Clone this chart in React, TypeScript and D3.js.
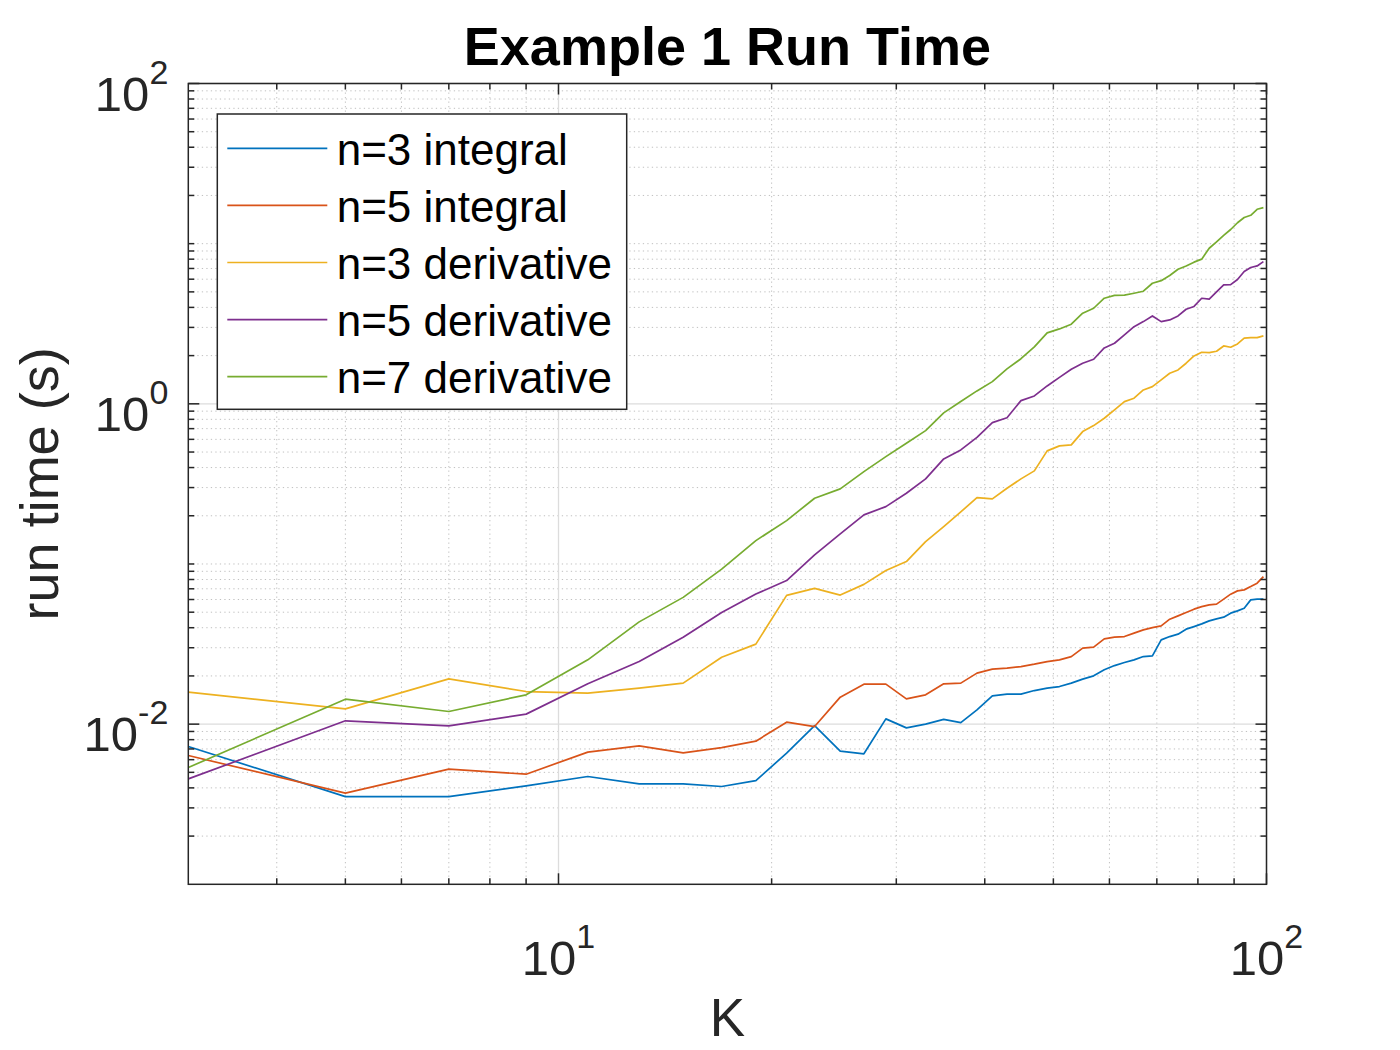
import React from "react";
import * as d3 from "d3";

const kValues = [3, 5, 7, 9, 11, 13, 15, 17, 19, 21, 23, 25, 27, 29, 31, 33, 35, 37, 39, 41, 43, 45, 47, 49, 51, 53, 55, 57, 59, 61, 63, 65, 67, 69, 71, 73, 75, 77, 79, 81, 83, 85, 87, 89, 91, 93, 95, 97, 99];

const n3Integral = [0.00725, 0.00353, 0.00353, 0.00412, 0.00471, 0.00424, 0.00424, 0.00408, 0.00444, 0.00659, 0.0098, 0.00678, 0.00653, 0.01079, 0.00948, 0.01, 0.01072, 0.01023, 0.01228, 0.01502, 0.01539, 0.01539, 0.01621, 0.01678, 0.01717, 0.01803, 0.0191, 0.02002, 0.02183, 0.02321, 0.02424, 0.0252, 0.02642, 0.02669, 0.03359, 0.03522, 0.03646, 0.03917, 0.04066, 0.04227, 0.04413, 0.04543, 0.04655, 0.0493, 0.05095, 0.05297, 0.05969, 0.0603, 0.0603];

const n5Integral = [0.00637, 0.00371, 0.00524, 0.00487, 0.00669, 0.00732, 0.00662, 0.00714, 0.00783, 0.01029, 0.00966, 0.01474, 0.01777, 0.01777, 0.01438, 0.01524, 0.01785, 0.01803, 0.02082, 0.02204, 0.02236, 0.02288, 0.02368, 0.02459, 0.0252, 0.02642, 0.02981, 0.03024, 0.03408, 0.03492, 0.03522, 0.03698, 0.03877, 0.04008, 0.04107, 0.04523, 0.04742, 0.04972, 0.05222, 0.0542, 0.05554, 0.05611, 0.0603, 0.06479, 0.06794, 0.06892, 0.07225, 0.07588, 0.08342];

const n3Derivative = [0.01584, 0.01246, 0.01918, 0.01598, 0.01561, 0.01678, 0.01803, 0.02619, 0.03158, 0.06368, 0.07043, 0.06396, 0.07459, 0.09096, 0.1035, 0.1379, 0.1712, 0.2114, 0.2597, 0.2549, 0.297, 0.3399, 0.3813, 0.5082, 0.5461, 0.554, 0.6707, 0.731, 0.8129, 0.9161, 1.032, 1.084, 1.221, 1.281, 1.41, 1.552, 1.628, 1.792, 1.991, 2.099, 2.087, 2.13, 2.298, 2.256, 2.365, 2.568, 2.59, 2.59, 2.654];

const n5Derivative = [0.00455, 0.01049, 0.00976, 0.01155, 0.01785, 0.02459, 0.03492, 0.04972, 0.06489, 0.07876, 0.114, 0.1541, 0.2025, 0.2282, 0.2766, 0.3399, 0.453, 0.5157, 0.617, 0.7631, 0.8187, 1.047, 1.12, 1.293, 1.462, 1.644, 1.792, 1.898, 2.234, 2.389, 2.692, 3.033, 3.261, 3.538, 3.261, 3.341, 3.538, 3.895, 4.055, 4.563, 4.504, 4.995, 5.524, 5.548, 5.977, 6.707, 7.103, 7.258, 7.722];

const n7Derivative = [0.00536, 0.01432, 0.01199, 0.01524, 0.0252, 0.0435, 0.06187, 0.0928, 0.1399, 0.1866, 0.2574, 0.2943, 0.3775, 0.4682, 0.5676, 0.6803, 0.8774, 1.035, 1.204, 1.376, 1.652, 1.912, 2.266, 2.771, 2.935, 3.14, 3.678, 3.951, 4.563, 4.75, 4.771, 4.903, 5.046, 5.659, 5.875, 6.332, 6.921, 7.258, 7.666, 8.004, 9.361, 10.25, 11.25, 12.26, 13.51, 14.57, 15.04, 16.39, 16.78];

const seriesNames = ["n=3 integral", "n=5 integral", "n=3 derivative", "n=5 derivative", "n=7 derivative"];
const seriesColors = ["#0072BD", "#D95319", "#EDB120", "#7E2F8E", "#77AC30"];
const seriesValues = [n3Integral, n5Integral, n3Derivative, n5Derivative, n7Derivative];

const xMajorTicks = [10, 100];
const xMajorLabels = ["1", "2"];
const xMinorTicks = [4, 5, 6, 7, 8, 9, 20, 30, 40, 50, 60, 70, 80, 90];
const yMajorTicks = [1e-2, 1, 1e2];
const yMajorLabels = ["-2", "0", "2"];
const yMinorTicks = [
  2e-3, 3e-3, 4e-3, 5e-3, 6e-3, 7e-3, 8e-3, 9e-3,
  2e-2, 3e-2, 4e-2, 5e-2, 6e-2, 7e-2, 8e-2, 9e-2,
  1e-1, 2e-1, 3e-1, 4e-1, 5e-1, 6e-1, 7e-1, 8e-1, 9e-1,
  2, 3, 4, 5, 6, 7, 8, 9,
  10, 20, 30, 40, 50, 60, 70, 80, 90,
];

const titleText = "Example 1 Run Time";
const xLabelText = "K";
const yLabelText = "run time (s)";

const W = 1400;
const H = 1050;
const L = 188.3;
const R = 1266.5;
const T = 83.5;
const B = 884.3;
const FONT = "'Liberation Sans', Arial, Helvetica, sans-serif";
const AX = "#262626";

export default function App() {
  const x = d3.scaleLog().domain([3, 100]).range([L, R]);
  const y = d3.scaleLog().domain([1e-3, 1e2]).range([B, T]);
  const line = d3
    .line<number>()
    .x((_, i) => x(kValues[i]))
    .y((d) => y(d));

  const majLen = 11;
  const minLen = 6;

  const legendLeft = 217.3;
  const legendTop = 114;
  const legendW = 409.4;
  const legendH = 295.3;
  const rowY0 = 148.3;
  const rowStep = 57.1;

  return (
    <svg
      width={W}
      height={H}
      viewBox={`0 0 ${W} ${H}`}
      style={{ position: "absolute", left: 0, top: 0, background: "#fff" }}
      fontFamily={FONT}
    >
      <rect x={0} y={0} width={W} height={H} fill="#fff" />
      <defs>
        <clipPath id="plotclip">
          <rect x={L} y={T} width={R - L} height={B - T} />
        </clipPath>
      </defs>
      <rect x={L} y={T} width={R - L} height={B - T} fill="#fff" />

      {/* minor grid */}
      <g stroke="#c0c0c0" strokeWidth={1} strokeDasharray="1.3,3.2">
        {xMinorTicks.map((t) => (
          <line key={"xm" + t} x1={x(t)} x2={x(t)} y1={T} y2={B} />
        ))}
        {yMinorTicks.map((t) => (
          <line key={"ym" + t} x1={L} x2={R} y1={y(t)} y2={y(t)} />
        ))}
      </g>
      {/* major grid */}
      <g stroke="#dcdcdc" strokeWidth={1.3}>
        {xMajorTicks.map((t) => (
          <line key={"xg" + t} x1={x(t)} x2={x(t)} y1={T} y2={B} />
        ))}
        {yMajorTicks.map((t) => (
          <line key={"yg" + t} x1={L} x2={R} y1={y(t)} y2={y(t)} />
        ))}
      </g>

      {/* data */}
      <g clipPath="url(#plotclip)" fill="none" strokeWidth={1.7} strokeLinejoin="round">
        {seriesValues.map((vals, i) => (
          <path key={seriesNames[i]} d={line(vals) || ""} stroke={seriesColors[i]} />
        ))}
      </g>

      {/* box & ticks */}
      <g stroke={AX} strokeWidth={1.5}>
        <rect x={L} y={T} width={R - L} height={B - T} fill="none" />
        {xMinorTicks.map((t) => (
          <g key={"xt" + t}>
            <line x1={x(t)} x2={x(t)} y1={B} y2={B - minLen} />
            <line x1={x(t)} x2={x(t)} y1={T} y2={T + minLen} />
          </g>
        ))}
        {xMajorTicks.map((t) => (
          <g key={"xT" + t}>
            <line x1={x(t)} x2={x(t)} y1={B} y2={B - majLen} />
            <line x1={x(t)} x2={x(t)} y1={T} y2={T + majLen} />
          </g>
        ))}
        {yMinorTicks.map((t) => (
          <g key={"yt" + t}>
            <line x1={L} x2={L + minLen} y1={y(t)} y2={y(t)} />
            <line x1={R} x2={R - minLen} y1={y(t)} y2={y(t)} />
          </g>
        ))}
        {yMajorTicks.map((t) => (
          <g key={"yT" + t}>
            <line x1={L} x2={L + majLen} y1={y(t)} y2={y(t)} />
            <line x1={R} x2={R - majLen} y1={y(t)} y2={y(t)} />
          </g>
        ))}
      </g>

      {/* tick labels */}
      <g fill={AX} fontSize={49}>
        {xMajorTicks.map((t, i) => (
          <text key={"xl" + t} x={x(t)} y={B + 91} textAnchor="middle">
            <tspan>10</tspan>
            <tspan fontSize={34} dy={-27}>{xMajorLabels[i]}</tspan>
          </text>
        ))}
        {yMajorTicks.map((t, i) => (
          <text key={"yl" + t} x={L - 20} y={y(t) + 27} textAnchor="end">
            <tspan>10</tspan>
            <tspan fontSize={34} dy={-27}>{yMajorLabels[i]}</tspan>
          </text>
        ))}
      </g>

      {/* labels */}
      <text x={(L + R) / 2} y={65} textAnchor="middle" fontSize={54} fontWeight="bold" fill="#000">
        {titleText}
      </text>
      <text x={(L + R) / 2} y={1036} textAnchor="middle" fontSize={53} fill={AX}>
        {xLabelText}
      </text>
      <text
        transform={`translate(58, ${(T + B) / 2}) rotate(-90)`}
        textAnchor="middle"
        fontSize={54}
        fill={AX}
      >
        {yLabelText}
      </text>

      {/* legend */}
      <g>
        <rect x={legendLeft} y={legendTop} width={legendW} height={legendH} fill="#fff" stroke={AX} strokeWidth={1.5} />
        {seriesNames.map((name, i) => {
          const ry = rowY0 + i * rowStep;
          return (
            <g key={"lg" + name}>
              <line x1={227.3} x2={327.3} y1={ry} y2={ry} stroke={seriesColors[i]} strokeWidth={1.7} />
              <text x={336.7} y={ry + 16.5} fontSize={44} fill="#000">
                {name}
              </text>
            </g>
          );
        })}
      </g>
    </svg>
  );
}
